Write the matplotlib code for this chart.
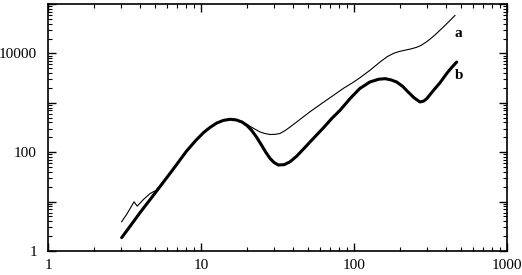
import matplotlib
matplotlib.use("Agg")
import matplotlib.pyplot as plt
from matplotlib.ticker import LogLocator, FixedLocator, FixedFormatter, NullFormatter

# Curve a (thin)
a_x = [3.03, 3.3, 3.65, 3.83, 4.2, 4.64, 5.1, 6.5, 8.0, 9.2, 10.4, 11.5, 12.7, 14,
       15.5, 17, 18.5, 19.5, 21.4, 24.3, 26, 28.3, 30.5, 32.8, 35.5, 38.2, 42.2, 51.6,
       63, 73, 85, 100, 109, 127, 148, 165, 181, 197, 215, 235, 257, 275, 295, 315, 340, 383,
       420, 457]
a_y = [3.9, 5.8, 9.9, 8.1, 11, 14.5, 17, 44, 105, 172, 258, 325, 393, 445,
       468, 455, 418, 385, 320, 257, 240, 228, 230, 239, 275, 324, 409, 660,
       1020, 1400, 1950, 2660, 3200, 4540, 6700, 8600, 10000, 10900, 11600, 12300, 13300, 14600, 16800, 19600, 24000, 34000,
       45000, 58600]

# Curve b (thick)
b_x = [3.03, 4.0, 5.1, 6.5, 8.0, 9.2, 10.4, 11.5, 12.7, 14, 15.5, 17, 18.5, 20,
       21.4, 23, 24.9, 26.5, 28.3, 30, 32, 35, 38.2, 42, 46, 52.9, 63, 71.5, 81, 95,
       109, 127, 145, 160, 175, 190, 208, 226, 248, 270, 285, 299, 330, 365, 403, 435, 469]
b_y = [1.86, 6.0, 16, 43, 103, 170, 250, 320, 391, 440, 464, 450, 409, 345,
       278, 205, 138, 100, 74.6, 62, 55, 56, 64, 82, 110, 175, 310, 480, 705, 1250,
       1940, 2640, 3000, 3080, 2900, 2640, 2150, 1650, 1250, 1040, 1080, 1215, 1770, 2550, 3900, 5200, 6670]

curve_labels = ["a", "b"]
label_pos = [(457, 25000), (457, 3600)]

x_ticks = [1, 10, 100, 1000]
x_tick_labels = ["1", "10", "100", "1000"]
y_ticks = [1, 10, 100, 1000, 10000, 100000]
y_tick_labels = ["1", "", "100", "", "10000", ""]

plt.rcParams['font.family'] = ['Liberation Serif', 'DejaVu Serif']

fig = plt.figure(figsize=(5.22, 2.75), dpi=100)
ax = fig.add_axes([48/522, 24/275, (507-48)/522, (251-4)/275])
ax.set_xscale('log')
ax.set_yscale('log')
ax.plot(a_x, a_y, color='black', lw=0.8, solid_joinstyle='round')
ax.plot(b_x, b_y, color='black', lw=2.2, solid_joinstyle='round', solid_capstyle='round')
for lab, (tx, ty) in zip(curve_labels, label_pos):
    ax.text(tx, ty, lab, fontsize=11, ha='left', va='center', fontweight='bold')

ax.set_xlim(1, 1000)
ax.set_ylim(1, 100000)
ax.xaxis.set_major_locator(FixedLocator(x_ticks))
ax.xaxis.set_major_formatter(FixedFormatter(x_tick_labels))
ax.yaxis.set_major_locator(FixedLocator(y_ticks))
ax.yaxis.set_major_formatter(FixedFormatter(y_tick_labels))
ax.xaxis.set_minor_locator(LogLocator(base=10, subs=range(2, 10), numticks=20))
ax.yaxis.set_minor_locator(LogLocator(base=10, subs=range(2, 10), numticks=20))
ax.xaxis.set_minor_formatter(NullFormatter())
ax.yaxis.set_minor_formatter(NullFormatter())
ax.tick_params(which='both', direction='in', top=True, right=True, labelsize=11)
ax.tick_params(which='major', length=6, width=1.0)
ax.tick_params(which='minor', length=3, width=0.8)
ax.tick_params(axis='x', pad=6)
ax.tick_params(axis='y', pad=8)
for s in ax.spines.values():
    s.set_linewidth(1.2)

fig.savefig('out.png', dpi=100)
